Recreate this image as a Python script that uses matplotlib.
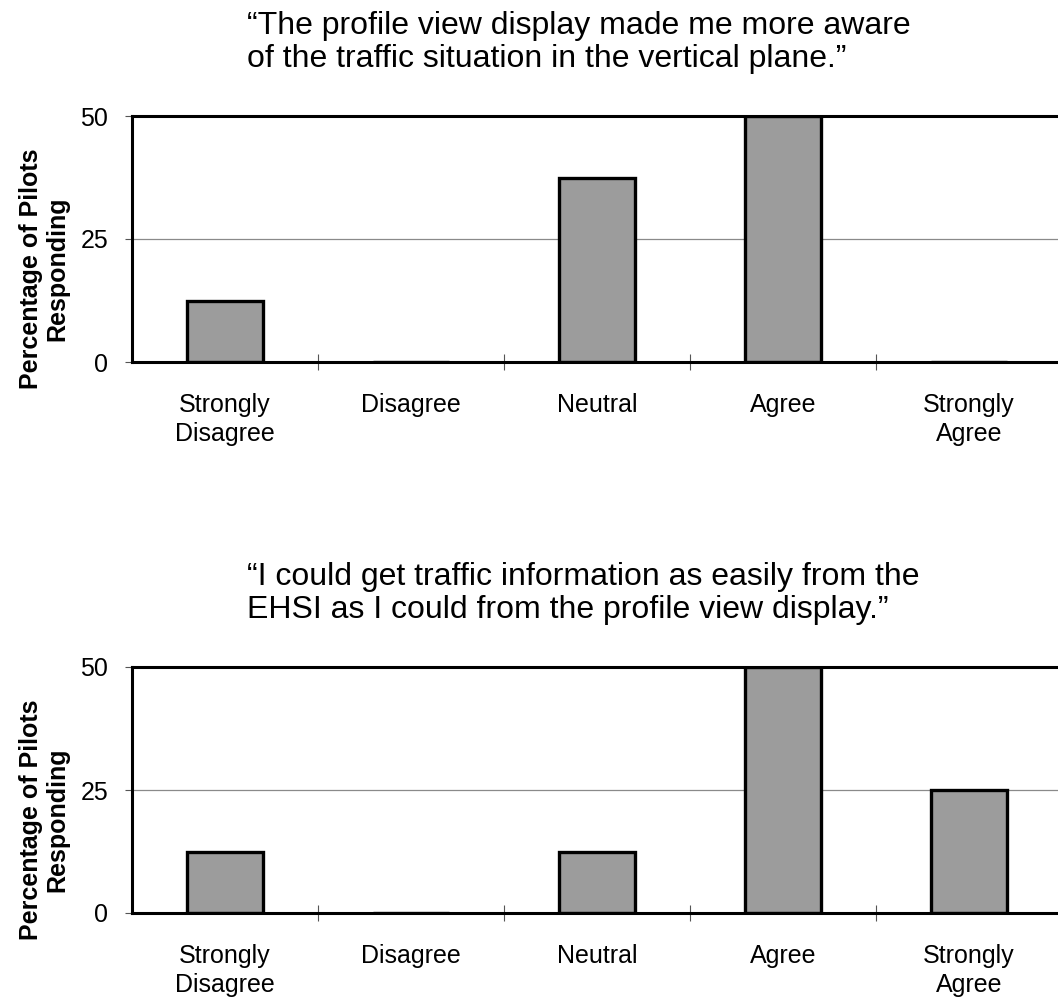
import numpy as np
import matplotlib
matplotlib.use("Agg")
import matplotlib.pyplot as plt

plt.rcParams['font.family'] = ['Liberation Sans', 'DejaVu Sans']

# Survey data (percent of pilots)
categories = ["Strongly\nDisagree", "Disagree", "Neutral", "Agree", "Strongly\nAgree"]
q1_title = "\u201cThe profile view display made me more aware\nof the traffic situation in the vertical plane.\u201d"
q1_values = [12.5, 0, 37.5, 50, 0]
q2_title = "\u201cI could get traffic information as easily from the\nEHSI as I could from the profile view display.\u201d"
q2_values = [12.5, 0, 12.5, 50, 25]
yticks = [0, 25, 50]

fig = plt.figure(figsize=(10.58, 10.01), dpi=100)

ax_w = 930 / 1058
ax_h = 246 / 1001
ax1 = fig.add_axes([132 / 1058, 1 - 362 / 1001, ax_w, ax_h])
ax2 = fig.add_axes([132 / 1058, 1 - 913 / 1001, ax_w, ax_h])


def draw_panel(ax, values, title):
    x = np.arange(len(categories))
    ax.axhline(25, color='#8a8a8a', lw=0.9, zorder=1)
    ax.bar(x, values, width=0.41, color='#9c9c9c', edgecolor='black',
           linewidth=2.4, zorder=3)
    ax.set_xlim(-0.5, 4.5)
    ax.set_ylim(0, 50)
    ax.set_yticks(yticks)
    ax.set_xticks(x)
    ax.set_xticklabels(categories, fontsize=18, linespacing=1.3)
    ax.set_xticks(x[:-1] + 0.5, minor=True)
    ax.tick_params(axis='x', which='major', length=0, pad=22)
    ax.tick_params(axis='x', which='minor', direction='inout', length=12,
                   width=0.8, color='#555555')
    ax.tick_params(axis='y', direction='out', length=5, width=0.8,
                   color='#555555', labelsize=18, pad=12)
    for side in ['left', 'top', 'bottom']:
        ax.spines[side].set_linewidth(2.2)
        ax.spines[side].set_zorder(4)
    ax.spines['right'].set_visible(False)
    ax.set_ylabel("Percentage of Pilots\nResponding", fontsize=18,
                  fontweight='bold', linespacing=1.1)
    ax.yaxis.set_label_coords((69 - 132) / 930, 0.38)
    ax.text((247 - 132) / 930, 1.17, title, transform=ax.transAxes,
            fontsize=23, linespacing=1.15, ha='left', va='bottom',
            multialignment='left')


draw_panel(ax1, q1_values, q1_title)
draw_panel(ax2, q2_values, q2_title)

fig.savefig("out.png", dpi=100)
